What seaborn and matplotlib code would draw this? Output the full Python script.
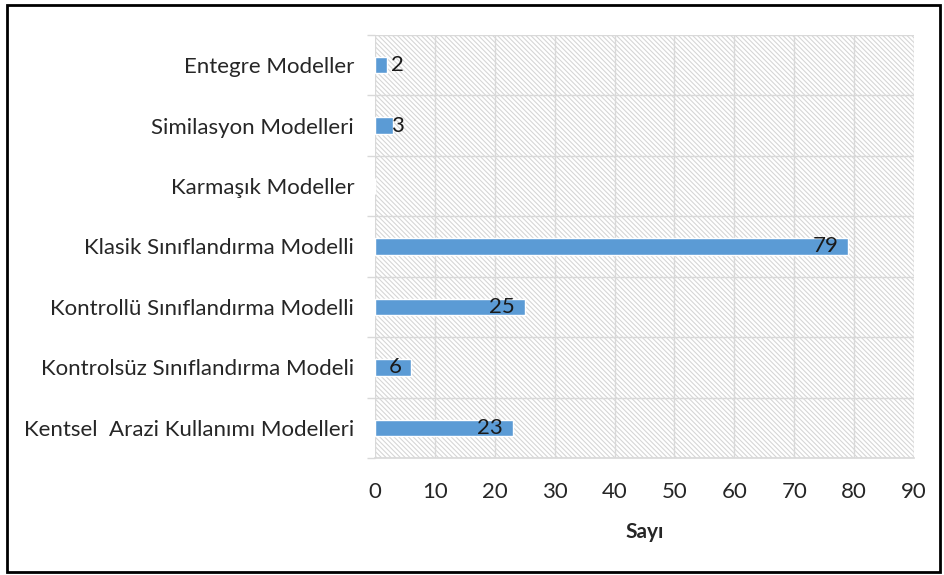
import matplotlib
matplotlib.use("Agg")
import matplotlib.pyplot as plt
from matplotlib.patches import Rectangle
import seaborn as sns
import pandas as pd

categories = [
    "Entegre Modeller",
    "Similasyon Modelleri",
    "Karmaşık Modeller",
    "Klasik Sınıflandırma Modelli",
    "Kontrollü Sınıflandırma Modelli",
    "Kontrolsüz Sınıflandırma Modeli",
    "Kentsel  Arazi Kullanımı Modelleri",
]
counts = [2, 3, 0, 79, 25, 6, 23]
x_ticks = [0, 10, 20, 30, 40, 50, 60, 70, 80, 90]
x_label = "Sayı"

df = pd.DataFrame({"kategori": categories, "sayi": counts})

sns.set_theme(style="white")
plt.rcParams["font.family"] = ["Lato", "DejaVu Sans"]
plt.rcParams["hatch.linewidth"] = 0.8
plt.rcParams["hatch.color"] = "#d6d6d6"

FS = 16
TXT = "#262626"

fig = plt.figure(figsize=(9.45, 5.75), dpi=100)
ax = fig.add_axes([375 / 945, 1 - 458 / 575, (914 - 375) / 945, (458 - 35) / 575])

# hatched plot-area background
ax.add_patch(Rectangle((0, 0), 1, 1, transform=ax.transAxes, facecolor="white",
                       edgecolor="#d6d6d6", hatch="\\" * 7, linewidth=0, zorder=0))

sns.barplot(data=df, y="kategori", x="sayi", order=categories, color="#5b9bd5",
            saturation=1, width=0.27, orient="h", ax=ax, zorder=3)

ax.set_xlim(0, 90)
ax.set_ylim(len(categories) - 0.5, -0.5)
ax.set_xticks(x_ticks)
ax.set_xticklabels([str(t) for t in x_ticks])

# gridlines: vertical at ticks, horizontal at category boundaries
for t in x_ticks:
    ax.axvline(t, color="#d9d9d9", linewidth=1.0, zorder=1)
bounds = [i - 0.5 for i in range(len(categories) + 1)]
ax.set_yticks(bounds, minor=True)
for b in bounds:
    ax.axhline(b, color="#d9d9d9", linewidth=1.0, zorder=1)
ax.tick_params(axis="y", which="minor", length=6, color="#d9d9d9", width=1.0, left=True)
ax.tick_params(axis="y", which="major", length=0, pad=15, labelsize=FS, labelcolor=TXT)
ax.tick_params(axis="x", which="major", length=0, pad=17, labelsize=FS, labelcolor=TXT)

for s in ax.spines.values():
    s.set_visible(False)
ax.spines["bottom"].set_visible(True)
ax.spines["bottom"].set_color("#d9d9d9")
ax.spines["bottom"].set_zorder(1)

ax.set_ylabel("")
ax.set_xlabel(x_label, fontsize=15, fontweight="bold", color=TXT, labelpad=15)

# value labels
for i, v in enumerate(counts):
    if v == 0:
        continue
    if v >= 6:
        ax.text(v - 1.6, i, str(v), ha="right", va="center", fontsize=FS,
                color="#1a1a1a", zorder=4)
    else:
        ax.text(2.6, i, str(v), ha="left", va="center", fontsize=FS,
                color="#1a1a1a", zorder=4)

# outer frame
fig.patches.append(Rectangle((7 / 945, 1 - 572 / 575), 933 / 945, 567 / 575,
                             transform=fig.transFigure, fill=False,
                             edgecolor="black", linewidth=2))

fig.savefig("out.png", dpi=100)
